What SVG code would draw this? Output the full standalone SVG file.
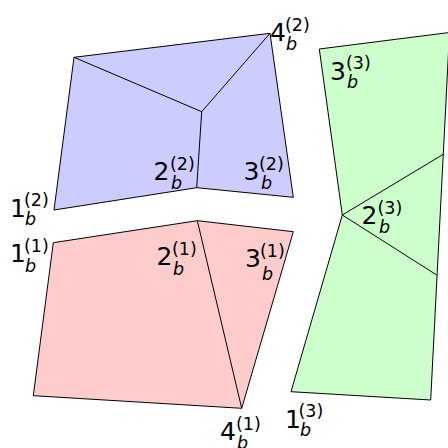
<svg xmlns="http://www.w3.org/2000/svg" width="448" height="448" viewBox="0 0 448 448">
<style>
.f{stroke:#000;stroke-width:1;stroke-linejoin:miter}
.e{stroke:#000;stroke-width:1;fill:none}
.m{font-family:"DejaVu Sans",sans-serif;font-size:25px;fill:#000}
.s{font-size:17.5px}
.b{font-size:17.5px;font-style:italic}
</style>
<rect width="448" height="448" fill="#fff"/>
<g id="blue">
<polygon class="f" fill="#ccccff" points="74,57.3 270,33.3 293.3,197.3 196.7,187.7 54,210"/>
</g>
<g id="red">
<polygon class="f" fill="#ffcccc" points="53.3,242.7 197.3,220.7 293.3,231.7 241.7,408.3 33.3,395.7"/>
</g>
<g id="green">
<polygon class="f" fill="#ccffcc" points="319.3,49 449.5,32.5 430.7,400 291,391.7 342.3,215"/>
</g>
<g id="connectors">
<path class="e" d="M74,57.3 L201.7,111.7 L270,33.3 M201.7,111.7 L196.7,187.7"/>
<path class="e" d="M197.3,220.7 L241.7,408.3"/>
<path class="e" d="M443.3,154.3 L342.3,215 L436.7,275"/>
</g>
<g id="labels">
<g id="l1b2"><text class="m" x="10" y="217">1<tspan class="s" x="24" y="205.5">(2)</tspan><tspan class="b" x="25" y="225">b</tspan></text></g>
<g id="l2b2"><text class="m" x="153.5" y="179.5">2<tspan class="s" x="170" y="169.5">(2)</tspan><tspan class="b" x="171" y="188.5">b</tspan></text></g>
<g id="l3b2"><text class="m" x="243.5" y="179.5">3<tspan class="s" x="259" y="169.5">(2)</tspan><tspan class="b" x="261" y="188.5">b</tspan></text></g>
<g id="l4b2"><text class="m" x="270" y="41">4<tspan class="s" x="285" y="31">(2)</tspan><tspan class="b" x="286" y="50">b</tspan></text></g>
<g id="l1b1"><text class="m" x="10" y="262">1<tspan class="s" x="24" y="252">(1)</tspan><tspan class="b" x="25" y="271.5">b</tspan></text></g>
<g id="l2b1"><text class="m" x="156.5" y="264.5">2<tspan class="s" x="172" y="254.5">(1)</tspan><tspan class="b" x="173" y="275">b</tspan></text></g>
<g id="l3b1"><text class="m" x="245" y="266.5">3<tspan class="s" x="260" y="256.5">(1)</tspan><tspan class="b" x="262" y="280">b</tspan></text></g>
<g id="l4b1"><text class="m" x="220" y="440">4<tspan class="s" x="236" y="430">(1)</tspan><tspan class="b" x="237" y="449">b</tspan></text></g>
<g id="l1b3"><text class="m" x="285" y="428">1<tspan class="s" x="298.5" y="416.5">(3)</tspan><tspan class="b" x="300" y="436">b</tspan></text></g>
<g id="l2b3"><text class="m" x="361.5" y="224">2<tspan class="s" x="377.5" y="213.5">(3)</tspan><tspan class="b" x="379" y="232.5">b</tspan></text></g>
<g id="l3b3"><text class="m" x="330" y="79.5">3<tspan class="s" x="346" y="68.5">(3)</tspan><tspan class="b" x="347" y="88">b</tspan></text></g>
</g>
</svg>
